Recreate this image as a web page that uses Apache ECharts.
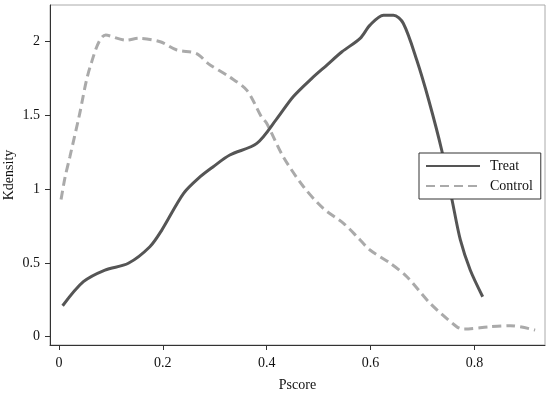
<!DOCTYPE html>
<html>
<head>
<meta charset="utf-8">
<script src="https://cdn.jsdelivr.net/npm/echarts@6/dist/echarts.min.js"></script>
<style>html,body{margin:0;padding:0;background:#fff}#c{width:550px;height:395px}</style>
</head>
<body>
<div id="c"></div>
<script>
var xTicks = [0, 0.2, 0.4, 0.6, 0.8];
var yTicks = [0, 0.5, 1, 1.5, 2];

var treatX = [0.007, 0.047, 0.0886, 0.1336, 0.175, 0.198, 0.24, 0.272, 0.297, 0.329, 0.381, 0.419, 0.451, 0.487, 0.516, 0.545, 0.58, 0.599, 0.625, 0.644, 0.663, 0.689, 0.712, 0.737, 0.757, 0.773, 0.792, 0.816];
var treatY = [0.21, 0.373, 0.452, 0.498, 0.61, 0.723, 0.972, 1.085, 1.153, 1.232, 1.311, 1.475, 1.627, 1.752, 1.842, 1.932, 2.023, 2.113, 2.18, 2.18, 2.125, 1.876, 1.605, 1.266, 0.927, 0.656, 0.452, 0.271];

var controlX = [0.004, 0.0116, 0.021, 0.0385, 0.06, 0.09, 0.13, 0.153, 0.195, 0.227, 0.265, 0.288, 0.329, 0.362, 0.39, 0.40, 0.432, 0.471, 0.509, 0.548, 0.577, 0.599, 0.638, 0.67, 0.715, 0.766, 0.779, 0.83, 0.869, 0.917];
var controlY = [0.93, 1.08, 1.22, 1.49, 1.83, 2.045, 2.01, 2.023, 2.0, 1.944, 1.92, 1.85, 1.76, 1.67, 1.49, 1.447, 1.22, 1.017, 0.87, 0.769, 0.667, 0.588, 0.498, 0.407, 0.226, 0.068, 0.052, 0.068, 0.075, 0.045];

function pairs(xs, ys) { return xs.map(function (x, i) { return [x, ys[i]]; }); }

var font = '"Liberation Serif", "Times New Roman", serif';
var chart = echarts.init(document.getElementById('c'));
chart.setOption({
  animation: false,
  backgroundColor: '#fff',
  textStyle: { fontFamily: font },
  grid: { left: 50, top: 5, right: 5, bottom: 50, show: true, borderColor: '#aaa', borderWidth: 1,
          containLabel: false, outerBoundsMode: 'none' },
  xAxis: {
    type: 'value', min: -0.0173, max: 0.936,
    name: 'Pscore', nameLocation: 'middle', nameGap: 33, nameMoveOverlap: false,
    nameTextStyle: { fontFamily: font, fontSize: 14, color: '#111' },
    axisLine: { show: true, onZero: false, lineStyle: { color: '#333', width: 1 } },
    axisTick: { show: true, length: 5, lineStyle: { color: '#333' }, customValues: xTicks },
    axisLabel: { fontFamily: font, fontSize: 14, color: '#111', margin: 11, customValues: xTicks },
    splitLine: { show: false }
  },
  yAxis: {
    type: 'value', min: -0.056, max: 2.249,
    name: 'Kdensity', nameLocation: 'middle', nameGap: 34, nameMoveOverlap: false,
    nameTextStyle: { fontFamily: font, fontSize: 14, color: '#111' },
    axisLine: { show: true, onZero: false, lineStyle: { color: '#333', width: 1 } },
    axisTick: { show: true, length: 5, lineStyle: { color: '#333' }, customValues: yTicks },
    axisLabel: { fontFamily: font, fontSize: 14, color: '#111', margin: 10, customValues: yTicks },
    splitLine: { show: false }
  },
  legend: {
    orient: 'vertical', left: 419, top: 153,
    padding: [6, 8, 6, 6], itemGap: 6, itemWidth: 54, itemHeight: 14,
    backgroundColor: '#fff', borderColor: '#333', borderWidth: 1,
    itemStyle: { opacity: 0 },
    textStyle: { fontFamily: font, fontSize: 14, color: '#111', padding: [0, 0, 0, 5] },
    data: ['Treat', 'Control']
  },
  series: [
    { name: 'Treat', type: 'line', smooth: 0.3, symbol: 'none', data: pairs(treatX, treatY),
      lineStyle: { color: '#555', width: 3 }, itemStyle: { color: '#555' }, z: 3 },
    { name: 'Control', type: 'line', smooth: 0.3, symbol: 'none', data: pairs(controlX, controlY),
      lineStyle: { color: '#aaa', width: 3, type: [9, 5] }, itemStyle: { color: '#aaa' }, z: 2 }
  ]
});
</script>
</body>
</html>
